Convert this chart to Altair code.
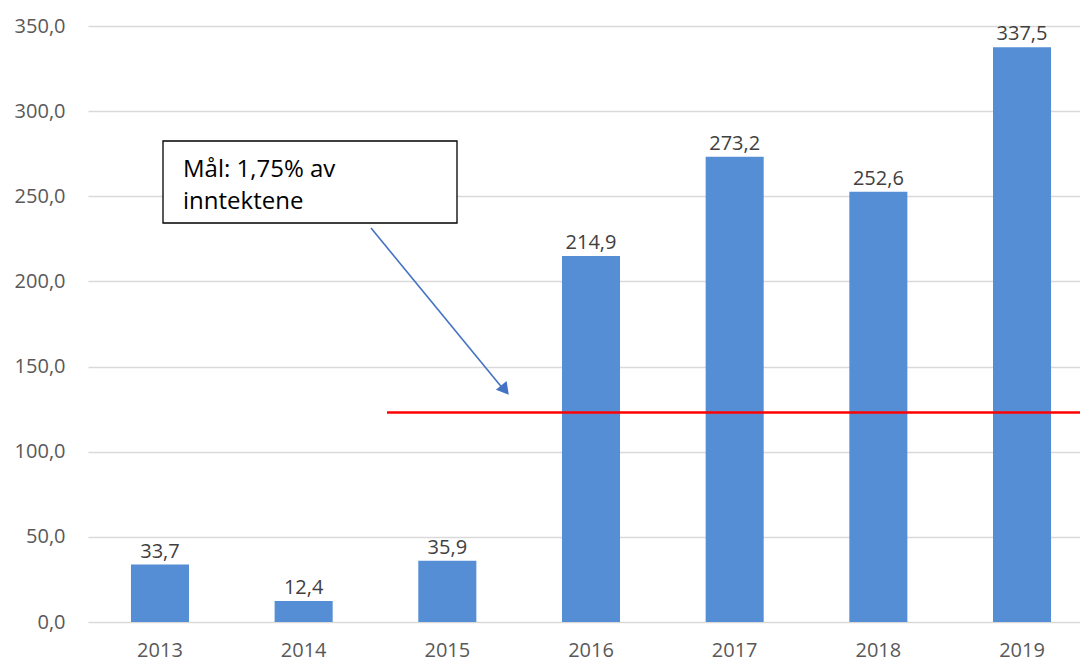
import altair as alt
import pandas as pd

years = ["2013", "2014", "2015", "2016", "2017", "2018", "2019"]
values = [33.7, 12.4, 35.9, 214.9, 273.2, 252.6, 337.5]
target_value = [123.0]
note_lines = ["Mål: 1,75% av", "inntektene"]

FONT = "Open Sans"
BAR = "#558ED5"
W, H = 992, 596

df = pd.DataFrame({"year": years, "value": values})
tdf = pd.DataFrame({"value": target_value})
one = pd.DataFrame({"a": [0]})
ndf = pd.DataFrame({"line": note_lines, "i": list(range(len(note_lines)))})

x = alt.X("year:N", title=None, sort=years,
          scale=alt.Scale(range=[0, 1006], paddingInner=0.596, paddingOuter=0.299),
          axis=alt.Axis(domain=False, ticks=False, labelAngle=0, labelFontSize=20,
                        labelFont=FONT, labelColor="#595959", labelPadding=18, grid=False))
y = alt.Y("value:Q", title=None,
          scale=alt.Scale(domain=[0, 350], nice=False),
          axis=alt.Axis(values=[0, 50, 100, 150, 200, 250, 300, 350], domain=False, ticks=False,
                        labelFontSize=20, labelFont=FONT, labelColor="#595959", labelPadding=23,
                        gridColor="#D9D9D9", gridWidth=1.5,
                        labelExpr="replace(format(datum.value, '.1f'), '.', ',')"))

base = alt.Chart(df)
bars = base.mark_bar(color=BAR).encode(x=x, y=y)
labels = base.transform_calculate(
    lab="replace(format(datum.value, '.1f'), '.', ',')"
).mark_text(font=FONT, fontSize=20, color="#404040", baseline="alphabetic", dy=-7).encode(
    x=alt.X("year:N", sort=years), y="value:Q", text="lab:N")

target = alt.Chart(tdf).mark_rule(color="#FF0000", strokeWidth=2.5).encode(
    y=alt.Y("value:Q"), x=alt.value(299), x2=alt.value(W))

box = alt.Chart(one).mark_rect(fill="white", stroke="black", strokeWidth=1.3).encode(
    x=alt.value(75), x2=alt.value(369), y=alt.value(115), y2=alt.value(197))

note_layers = []
for i, yy in enumerate([151, 183]):
    note_layers.append(
        alt.Chart(ndf).transform_filter(f"datum.i == {i}").mark_text(
            font=FONT, fontSize=24, color="black", align="left", baseline="alphabetic"
        ).encode(x=alt.value(95), y=alt.value(yy), text="line:N")
    )

arrow = alt.Chart(one).mark_rule(color="#4472C4", strokeWidth=1.6).encode(
    x=alt.value(283), y=alt.value(202), x2=alt.value(416), y2=alt.value(364))
head = alt.Chart(one).mark_point(shape="triangle-up", filled=True, color="#4472C4",
                                 opacity=1, size=190, angle=141).encode(
    x=alt.value(417), y=alt.value(364))

chart = alt.layer(bars, labels, target, box, *note_layers, arrow, head).properties(
    width=W, height=H,
    padding={"left": 80, "top": 18, "right": 0, "bottom": 40},
    autosize=alt.AutoSizeParams(type="none"),
).configure_view(stroke=None)

chart.save("out.html", embed_options={"renderer": "svg", "actions": False})
